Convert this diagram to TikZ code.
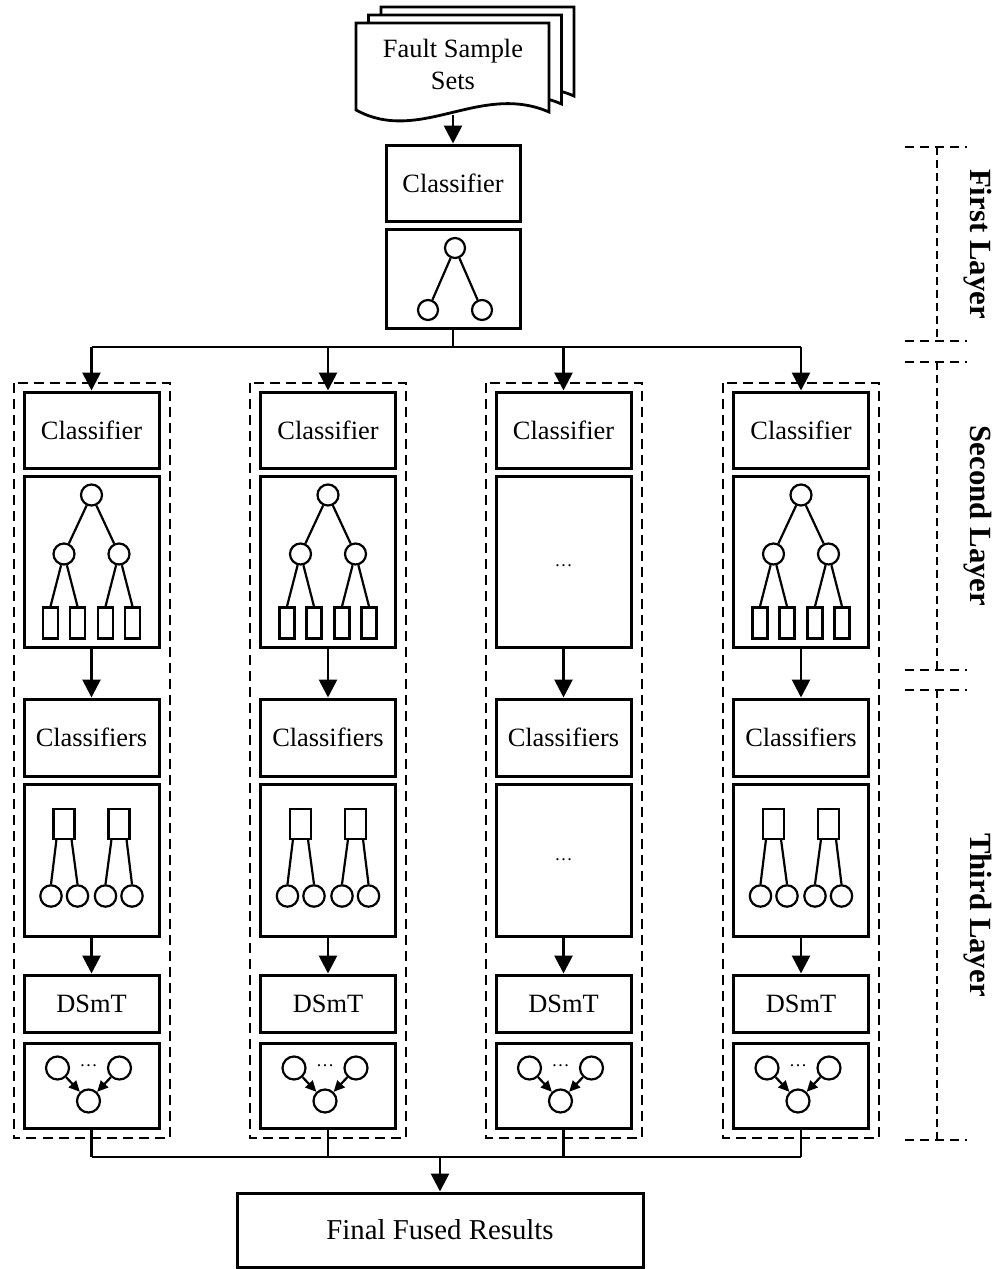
\documentclass[tikz,border=0pt]{standalone}
\usepackage{fontspec}
\setmainfont{Liberation Serif}
\usetikzlibrary{arrows.meta}
\begin{document}
\begin{tikzpicture}[x=0.5pt,y=-0.5pt,
  box/.style={draw, line width=1.5pt, minimum width=67.5pt, inner sep=0pt, font=\fontsize{13.2}{15.8}\selectfont},
  grp/.style={draw, dash pattern=on 5pt off 3pt, line width=1pt},
  arr/.style={-{Triangle[length=9pt,width=9pt]}, line width=1.4pt},
  ln/.style={line width=1.4pt},
  thn/.style={line width=1.1pt},
  tc/.style={circle, draw, line width=1.1pt, minimum size=10.5pt, inner sep=0pt},
  rc/.style={circle, draw, line width=1.1pt, minimum size=11.5pt, inner sep=0pt},
  leaf/.style={rectangle, draw, line width=1.1pt, minimum width=7.5pt, minimum height=15.5pt, inner sep=0pt},
  cbox/.style={rectangle, draw, line width=1.1pt, minimum width=10.5pt, minimum height=15pt, inner sep=0pt},
  dots/.style={inner sep=0pt, font=\fontsize{9}{10}\selectfont},
  lyr/.style={dash pattern=on 4.5pt off 3pt, line width=1pt},
  lyrv/.style={dash pattern=on 4pt off 2.5pt, line width=0.6pt},
  lab/.style={rotate=-90, font=\bfseries\fontsize{15.4}{18}\selectfont, inner sep=0pt}
]
\useasboundingbox (0,0) rectangle (997,1269);

% document stack
\foreach \dx/\dy in {25/-16, 12.5/-8, 0/0}{
  \draw[ln, fill=white, shift={(\dx,\dy)}] (356,23) -- (549,23) -- (549,112)
     .. controls (480,82) and (420,145) .. (356,110) -- cycle;
}
\node[align=center, inner sep=0pt, font=\fontsize{13.2}{16}\selectfont] (doc) at (453,64) {Fault Sample\\Sets};
\coordinate (docb) at (453,115);

% first layer
\node[box, minimum width=67pt, minimum height=38pt] (cls0) at (453,183) {Classifier};
\node[box, minimum width=67pt, minimum height=49.5pt] (tr0) at (453,278.5) {};
\node[tc, minimum size=10pt] (r0) at (455,248) {};
\node[tc, minimum size=10pt] (la0) at (428,310) {};
\node[tc, minimum size=10pt] (lb0) at (482,310) {};
\draw[thn] (r0) -- (la0);
\draw[thn] (r0) -- (lb0);
\draw[arr] (docb) -- (cls0.north);

\coordinate (hub) at (453,347);
\draw[ln] (tr0.south) -- (hub);

% columns
\foreach \c/\i in {91.5/1,328/2,563.5/3,801/4}{
  \draw[grp] (\c-78,383) rectangle (\c+78,1138);
  \node[box, minimum height=38pt] (cls\i) at (\c,430) {Classifier};
  \node[box, minimum height=85.5pt] (tr\i) at (\c,561.5) {};
  \node[box, minimum height=38.5pt] (clss\i) at (\c,737.5) {Classifiers};
  \node[box, minimum height=76pt] (cb\i) at (\c,860) {};
  \node[box, minimum height=28.5pt] (ds\i) at (\c,1003.5) {DSmT};
  \node[box, minimum height=42.5pt] (rs\i) at (\c,1085.5) {};
  \ifnum\i=3
    \node[dots] (da\i) at (\c,566) {\ldots};
    \node[dots] (db\i) at (\c,860) {\ldots};
  \else
    % tree
    \node[tc] (r\i) at (\c,495) {};
    \node[tc] (ma\i) at (\c-27.5,554) {};
    \node[tc] (mb\i) at (\c+27.5,554) {};
    \node[leaf] (l1\i) at (\c-41,623) {};
    \node[leaf] (l2\i) at (\c-14,623) {};
    \node[leaf] (l3\i) at (\c+14,623) {};
    \node[leaf] (l4\i) at (\c+41,623) {};
    \draw[thn] (r\i) -- (ma\i);
    \draw[thn] (r\i) -- (mb\i);
    \draw[thn] (ma\i) -- (l1\i.north);
    \draw[thn] (ma\i) -- (l2\i.north);
    \draw[thn] (mb\i) -- (l3\i.north);
    \draw[thn] (mb\i) -- (l4\i.north);
    % classifiers
    \node[cbox] (qa\i) at (\c-27.5,824) {};
    \node[cbox] (qb\i) at (\c+27.5,824) {};
    \node[tc, minimum size=10.7pt] (p1\i) at (\c-40.5,896) {};
    \node[tc, minimum size=10.7pt] (p2\i) at (\c-14,896) {};
    \node[tc, minimum size=10.7pt] (p3\i) at (\c+14,896) {};
    \node[tc, minimum size=10.7pt] (p4\i) at (\c+40.5,896) {};
    \draw[thn] ([xshift=2pt]qa\i.south west) -- (p1\i.north);
    \draw[thn] ([xshift=-2pt]qa\i.south east) -- (p2\i.north);
    \draw[thn] ([xshift=2pt]qb\i.south west) -- (p3\i.north);
    \draw[thn] ([xshift=-2pt]qb\i.south east) -- (p4\i.north);
  \fi
  % fusion
  \node[rc] (u1\i) at (\c-34,1068) {};
  \node[rc] (u2\i) at (\c+28,1068) {};
  \node[rc] (w\i) at (\c-3,1101) {};
  \node[dots] (ud\i) at (\c-3,1066) {\ldots};
  \draw[thn, -{Triangle[length=5.5pt,width=5pt]}] (u1\i) -- (w\i);
  \draw[thn, -{Triangle[length=5.5pt,width=5pt]}] (u2\i) -- (w\i);
  % connectors
  \coordinate (t\i) at (\c,347);
  \draw[arr] (t\i) -- (cls\i.north);
  \draw[arr] (tr\i) -- (clss\i);
  \draw[arr] (cb\i) -- (ds\i);
  \coordinate (b\i) at (\c,1157);
  \draw[ln] (rs\i.south) -- (b\i);
}
\draw[ln] (t1) -- (t4);
\draw[ln] (b1) -- (b4);

% final
\node[box, minimum width=203pt, minimum height=37pt, font=\fontsize{14.4}{17}\selectfont] (fin) at (440,1230) {Final Fused Results};
\coordinate (bh) at (440,1157);
\draw[arr] (bh) -- (fin.north);

% layer brackets
\foreach \ya/\yb in {147/341, 362/670, 690/1140}{
  \draw[lyr] (905,\ya) -- (967,\ya);
  \draw[lyr] (905,\yb) -- (967,\yb);
  \draw[lyrv] (937,\ya) -- (937,\yb);
}
\node[lab] (L1) at (978,244) {First Layer};
\node[lab] (L2) at (978,516) {Second Layer};
\node[lab] (L3) at (978,915) {Third Layer};
\end{tikzpicture}
\end{document}
